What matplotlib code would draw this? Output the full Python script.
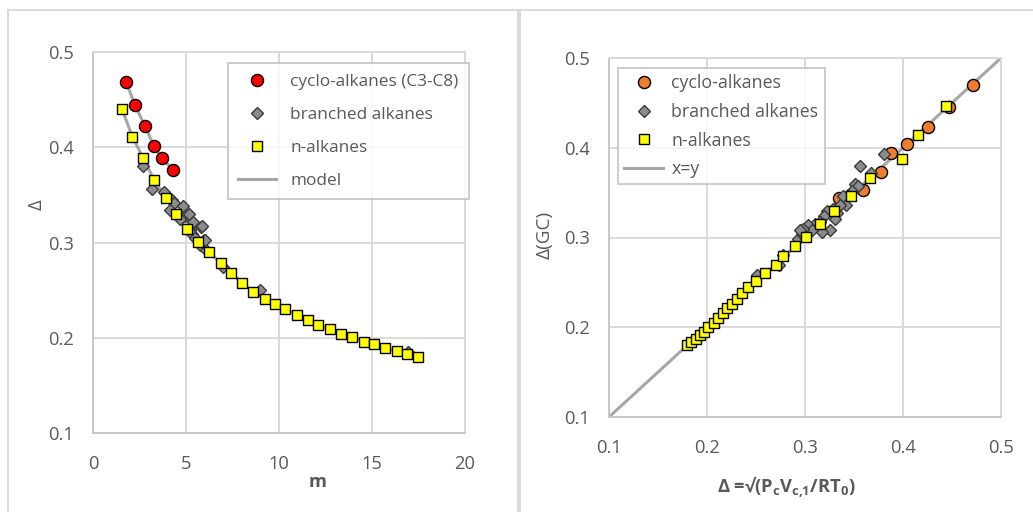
import numpy as np
import matplotlib
matplotlib.use("Agg")
import matplotlib.pyplot as plt
from matplotlib.patches import Rectangle

# left panel: Delta against segment number m
cyclo_m = [1.77, 2.26, 2.80, 3.28, 3.71, 4.30]
cyclo_delta = [0.469, 0.444, 0.422, 0.401, 0.389, 0.376]

branched_m = [2.71, 3.15, 3.80, 4.23, 4.37, 4.86, 4.14, 4.95, 4.68, 5.18, 5.39,
              5.79, 5.22, 5.30, 5.48, 5.97, 5.75, 6.08, 5.84, 6.02, 7.00, 8.98, 16.94]
branched_delta = [0.380, 0.356, 0.353, 0.345, 0.341, 0.338, 0.334, 0.328, 0.325, 0.330, 0.322,
                  0.316, 0.313, 0.309, 0.305, 0.303, 0.297, 0.292, 0.317, 0.303, 0.274, 0.250, 0.185]

n_m = [1.56, 2.12, 2.69, 3.28, 3.92, 4.46, 5.04, 5.63, 6.25, 6.87, 7.40, 8.01, 8.62, 9.23,
       9.78, 10.34, 10.97, 11.58, 12.10, 12.74, 13.35, 13.94, 14.57, 15.09, 15.72, 16.33,
       16.87, 17.46]
n_delta = [0.440, 0.411, 0.389, 0.366, 0.347, 0.330, 0.314, 0.301, 0.290, 0.278, 0.268,
           0.258, 0.248, 0.241, 0.235, 0.230, 0.224, 0.219, 0.213, 0.209, 0.204, 0.201,
           0.196, 0.193, 0.189, 0.186, 0.183, 0.180]

# model curves (cyclo branch, gap, linear branch)
model_m = cyclo_m + [np.nan] + n_m
model_delta = cyclo_delta + [np.nan] + n_delta

# right panel: Delta from GC against Delta from critical data
cyclo_x = [0.471, 0.447, 0.425, 0.404, 0.388, 0.378, 0.359, 0.335]
cyclo_y = [0.470, 0.445, 0.423, 0.404, 0.394, 0.373, 0.353, 0.344]

branched_x = [0.356, 0.381, 0.367, 0.351, 0.354, 0.348, 0.344, 0.339, 0.342, 0.336, 0.329,
              0.333, 0.322, 0.319, 0.331, 0.315, 0.326, 0.317, 0.310, 0.303, 0.307, 0.298,
              0.293, 0.297, 0.273, 0.251, 0.278, 0.295]
branched_y = [0.380, 0.393, 0.372, 0.360, 0.357, 0.352, 0.347, 0.346, 0.336, 0.336, 0.332,
              0.327, 0.330, 0.324, 0.321, 0.317, 0.308, 0.306, 0.315, 0.314, 0.308, 0.310,
              0.298, 0.304, 0.269, 0.258, 0.281, 0.308]

n_x = [0.180, 0.184, 0.189, 0.193, 0.197, 0.201, 0.207, 0.211, 0.216, 0.220, 0.225, 0.231,
       0.236, 0.242, 0.250, 0.259, 0.270, 0.278, 0.290, 0.301, 0.315, 0.330, 0.347, 0.366,
       0.399, 0.415, 0.444]
n_y = [0.180, 0.184, 0.187, 0.191, 0.195, 0.200, 0.205, 0.210, 0.216, 0.221, 0.226, 0.232,
       0.238, 0.245, 0.252, 0.260, 0.269, 0.279, 0.290, 0.301, 0.315, 0.330, 0.346, 0.366,
       0.387, 0.414, 0.446]

parity = [0.1, 0.5]

TXT = "#595959"
GRID = "#D9D9D9"
LINE = "#A6A6A6"
FS = 13.2

plt.rcParams["font.family"] = ["Open Sans", "DejaVu Sans"]
plt.rcParams["mathtext.fontset"] = "custom"
plt.rcParams["mathtext.rm"] = "Open Sans"
plt.rcParams["mathtext.bf"] = "Open Sans:bold"

W, H = 1033, 512
fig = plt.figure(figsize=(W / 100, H / 100), dpi=100)


def px_axes(x0, y0, x1, y1):
    return fig.add_axes([x0 / W, 1 - y1 / H, (x1 - x0) / W, (y1 - y0) / H])


def style(ax):
    ax.grid(True, color=GRID, lw=1.4)
    ax.set_axisbelow(True)
    for s in ax.spines.values():
        s.set_color(GRID)
        s.set_linewidth(1.4)
    ax.spines["left"].set_color("#C8C8C8")
    ax.spines["bottom"].set_color("#C8C8C8")
    ax.tick_params(length=0, labelsize=FS, labelcolor=TXT)
    ax.tick_params(axis="x", pad=16)
    ax.tick_params(axis="y", pad=14)


# chart frames
for x0, x1 in [(8, 518), (520, 1045)]:
    fig.add_artist(Rectangle((x0 / W, -0.05), (x1 - x0) / W, 1.05 - 10 / H,
                             transform=fig.transFigure, fill=False,
                             edgecolor=GRID, lw=1.4))

mk = dict(markeredgecolor="black", markeredgewidth=1.0, linestyle="none")
dk = dict(markeredgecolor="#3A3A3A", markeredgewidth=1.0, linestyle="none")

ax1 = px_axes(93, 52, 465, 433)
style(ax1)
ax1.plot(model_m, model_delta, color=LINE, lw=2.2, label="model", zorder=2)
ax1.plot(cyclo_m, cyclo_delta, marker="o", ms=8.7, color="#FF0000",
         label="cyclo-alkanes (C3-C8)", zorder=3, **mk)
ax1.plot(branched_m, branched_delta, marker="D", ms=5.8, color="#8C8C8C",
         label="branched alkanes", zorder=3, **dk)
ax1.plot(n_m, n_delta, marker="s", ms=7, color="#FFFF00", label="n-alkanes",
         zorder=4, **mk)
ax1.set_xlim(0, 20)
ax1.set_ylim(0.1, 0.5)
ax1.set_xticks([0, 5, 10, 15, 20])
ax1.set_yticks([0.1, 0.2, 0.3, 0.4, 0.5])
h, l = ax1.get_legend_handles_labels()
order = [1, 2, 3, 0]
leg1 = ax1.legend([h[i] for i in order], [l[i] for i in order], loc="upper right",
                  bbox_to_anchor=(1.011, 0.971), fancybox=False, fontsize=FS - 0.8,
                  labelcolor=TXT, edgecolor="#BFBFBF", labelspacing=0.98,
                  handlelength=2.2, borderpad=0.62, borderaxespad=0)
leg1.get_frame().set_linewidth(1.4)
leg1.set_zorder(6)

ax2 = px_axes(609, 58, 1001, 417)
style(ax2)
ax2.plot(parity, parity, color=LINE, lw=2.2, label="x=y", zorder=2)
ax2.plot(cyclo_x, cyclo_y, marker="o", ms=8.7, color="#ED7D31",
         label="cyclo-alkanes", zorder=3, **mk)
ax2.plot(branched_x, branched_y, marker="D", ms=5.8, color="#8C8C8C",
         label="branched alkanes", zorder=3, **dk)
ax2.plot(n_x, n_y, marker="s", ms=7, color="#FFFF00", label="n-alkanes",
         zorder=4, **mk)
ax2.set_xlim(0.1, 0.5)
ax2.set_ylim(0.1, 0.5)
ax2.set_xticks([0.1, 0.2, 0.3, 0.4, 0.5])
ax2.set_yticks([0.1, 0.2, 0.3, 0.4, 0.5])
h, l = ax2.get_legend_handles_labels()
leg2 = ax2.legend([h[i] for i in order], [l[i] for i in order], loc="upper left",
                  bbox_to_anchor=(0.023, 0.972), fancybox=False, fontsize=FS - 0.4,
                  labelcolor=TXT, edgecolor="#BFBFBF", labelspacing=0.6,
                  handlelength=2.2, handletextpad=0.45, borderpad=0.35,
                  borderaxespad=0)
leg2.get_frame().set_linewidth(1.4)
leg2.set_zorder(6)

# axis titles
fig.text(318 / W, 1 - 482 / H, "m", fontsize=FS, fontweight="bold",
         color=TXT, ha="center", va="center")
fig.text(37 / W, 1 - 205 / H, "Δ", fontsize=FS, rotation=90,
         color=TXT, ha="center", va="center")
fig.text(545 / W, 1 - 235 / H, "Δ(GC)", fontsize=FS + 0.5, rotation=90,
         color=TXT, ha="center", va="center")
fig.text(786 / W, 1 - 487 / H,
         r"Δ =√(P$_\mathbf{c}$V$_\mathbf{c{,}1}$/RT$_\mathbf{0}$)",
         fontsize=FS, fontweight="bold", color=TXT, ha="center", va="center")

fig.savefig("out.png", dpi=100, facecolor="white")
